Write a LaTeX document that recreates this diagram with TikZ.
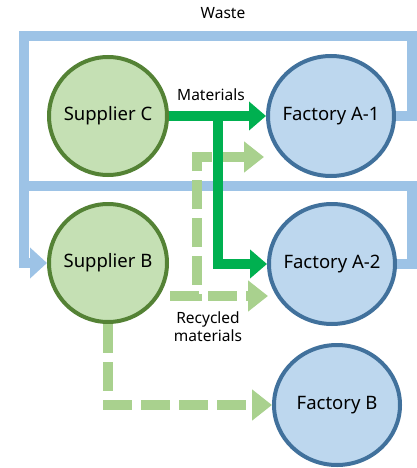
\documentclass[tikz,border=0pt]{standalone}
\usepackage{fontspec}
\setmainfont{Noto Sans}
\usetikzlibrary{arrows.meta, shapes.geometric, calc}

\definecolor{supfill}{HTML}{C5E0B4}
\definecolor{supline}{HTML}{548235}
\definecolor{facfill}{HTML}{BDD7EE}
\definecolor{facline}{HTML}{41719C}
\definecolor{matgreen}{HTML}{00B050}
\definecolor{recgreen}{HTML}{A9D18E}
\definecolor{wasteblue}{HTML}{9DC3E6}

\tikzset{
    nodetext/.style={font=\fontsize{18.5}{20}\selectfont},
    supplier/.style={circle, draw=supline, fill=supfill, line width=4pt, inner sep=0pt, minimum size=118pt,
        label={[nodetext]center:#1}},
    factory/.style={ellipse, draw=facline, fill=facfill, line width=4pt, inner sep=0pt, minimum width=126pt, minimum height=120pt,
        label={[nodetext]center:#1}},
    material/.style={draw=matgreen, line width=10pt, -{Triangle[length=17pt, width=28pt]}},
    recycled/.style={draw=recgreen, line width=10pt, dash pattern=on 29pt off 9pt, -{Triangle[length=20pt, width=30pt]}},
    waste/.style={draw=wasteblue, line width=10pt},
    lbl/.style={font=\fontsize{15.5}{18}\selectfont, align=center}
}

\begin{document}
\begin{tikzpicture}[x=1pt, y=-1pt]
    \useasboundingbox (0,0) rectangle (417,468);

    \node[supplier={Supplier C}] (supC) at (108,116) {};
    \node[supplier={Supplier B}] (supB) at (108,263) {};
    \node[factory={Factory A-1}] (facA1) at (331,116) {};
    \node[factory={Factory A-2}] (facA2) at (332,264) {};
    \node[factory={Factory B}] (facB) at (337,405) {};

    % waste loops
    \coordinate (wtr) at (412,36);
    \coordinate (wtl) at (24,36);
    \coordinate (wmr) at (412,186);
    \coordinate (wml) at (24,186);
    \draw[waste, -{Triangle[length=17pt, width=30pt]}] (facA1.east) -| (wtr) -- (wtl) |- (supB.west);
    \draw[waste] (facA2.east) -| (wmr) -- (wml);

    % recycled materials
    \coordinate (rstart) at (170,296);
    \coordinate (rcorner) at (197,296);
    \coordinate (rtop) at (197,157);
    \coordinate (rA1) at (264,157);
    \coordinate (rA2) at (268,296);
    \draw[recycled] (rstart) -- (rcorner) -- (rtop) -- (rA1);
    \draw[recycled] (rstart) -- (rA2);
    \draw[recycled] (supB.south) |- (facB.west);

    % materials
    \coordinate (branch) at (218,116);
    \draw[material] (supC.east) -- (facA1.west);
    \draw[material] (branch) |- (facA2.west);

    \node[lbl] (waste) at (223,13) {Waste};
    \node[lbl] (mat) at (211,95) {Materials};
    \node[lbl] (rec) at (208,327) {Recycled\\materials};
\end{tikzpicture}
\end{document}
